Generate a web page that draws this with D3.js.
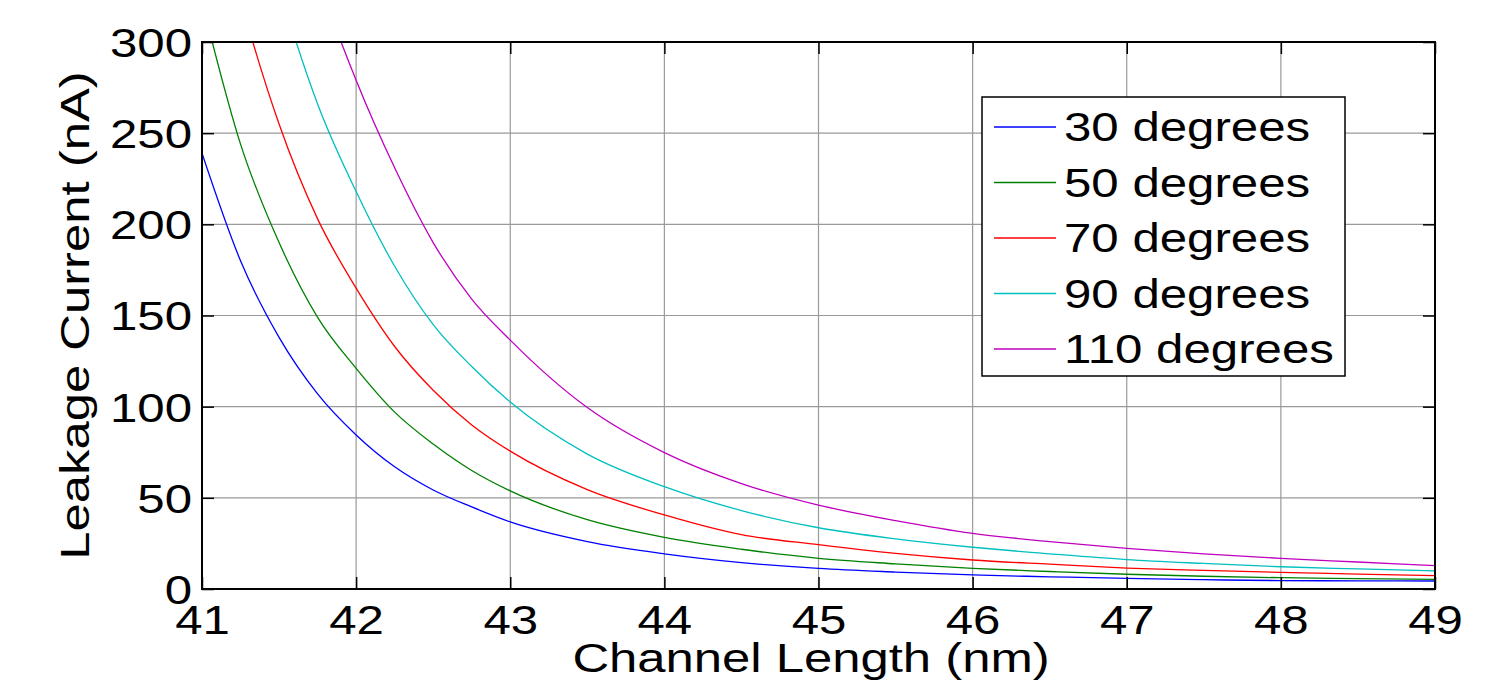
<!DOCTYPE html>
<html>
<head>
<meta charset="utf-8">
<script src="https://cdn.jsdelivr.net/npm/d3@7"></script>
<style>
  html, body { margin: 0; padding: 0; background: #fff; }
  svg { display: block; font-family: Arial, "Liberation Sans", sans-serif; }
</style>
</head>
<body>
<svg id="chart" width="1508" height="695"></svg>
<script>
// Channel length (nm)
const channelLength = [41, 41.25, 41.5, 41.75, 42, 42.25, 42.5, 42.75, 43, 43.5, 44, 44.5, 45, 45.5, 46, 46.5, 47, 47.5, 48, 48.5, 49];
// Leakage current (nA) per temperature
const deg30  = [239, 180, 138, 107, 84.5, 67, 54.3, 45, 36.8, 26, 19.3, 14.5, 11.3, 9.3, 7.7, 6.7, 5.8, 5.1, 4.6, 4.5, 4.4];
const deg50  = [322, 244, 190, 149, 121, 97, 79.5, 65, 53.8, 38, 28.3, 21.8, 16.8, 13.8, 11.3, 9.6, 8.1, 7.0, 6.2, 5.7, 5.3];
const deg70  = [412, 324, 255, 203, 165, 133, 109, 90, 75.6, 54.5, 40.6, 29.8, 24.3, 19.5, 15.9, 13.6, 11.5, 10.2, 9.1, 8.2, 7.3];
const deg90  = [516, 414, 331, 266, 218, 177, 145, 122, 102.5, 74, 56.1, 43, 33.6, 27.5, 22.9, 19.3, 16.1, 14.0, 12.2, 11.0, 9.9];
const deg110 = [602, 496, 408, 336, 279, 231, 190, 159, 136.5, 99.5, 74.8, 57.8, 46, 37.5, 30.5, 26, 22.3, 19.3, 16.8, 14.8, 12.8];

const seriesNames = ["30 degrees", "50 degrees", "70 degrees", "90 degrees", "110 degrees"];
const seriesValues = [deg30, deg50, deg70, deg90, deg110];
const seriesColors = ["#0000ff", "#008000", "#ff0000", "#00bfbf", "#bf00bf"];

const xTicks = [41, 42, 43, 44, 45, 46, 47, 48, 49];
const yTicks = [0, 50, 100, 150, 200, 250, 300];
const xTitle = "Channel Length (nm)";
const yTitle = "Leakage Current (nA)";

const svg = d3.select("#chart");
const L = 202, R = 1435, T = 42, B = 589;
const x = d3.scaleLinear().domain([41, 49]).range([L, R]);
const y = d3.scaleLinear().domain([0, 300]).range([B, T]);
const FS = 40;
const SX = 1.23;   // horizontal widening of glyphs (tick labels, legend)
const SXT = 1.27;  // horizontal widening of axis titles
const tickLen = 12;

// grid
const grid = svg.append("g");
grid.selectAll("line.gx").data(xTicks.slice(1, -1)).enter().append("line")
  .attr("x1", d => x(d)).attr("x2", d => x(d)).attr("y1", T).attr("y2", B)
  .attr("stroke", "#9a9a9a").attr("stroke-width", 1.2);
grid.selectAll("line.gy").data(yTicks.slice(1, -1)).enter().append("line")
  .attr("y1", d => y(d)).attr("y2", d => y(d)).attr("x1", L).attr("x2", R)
  .attr("stroke", "#9a9a9a").attr("stroke-width", 1.2);

// clip
svg.append("clipPath").attr("id", "plotclip").append("rect")
  .attr("x", L).attr("y", T).attr("width", R - L).attr("height", B - T);

const line = d3.line()
  .x(d => x(d[0])).y(d => y(d[1]))
  .curve(d3.curveMonotoneX);

const lines = svg.append("g").attr("clip-path", "url(#plotclip)");
seriesValues.forEach((vals, i) => {
  lines.append("path")
    .datum(channelLength.map((c, j) => [c, vals[j]]))
    .attr("d", line)
    .attr("fill", "none")
    .attr("stroke", seriesColors[i])
    .attr("stroke-width", 1.3);
});

// axes with inward ticks
const axB = d3.axisBottom(x).tickValues(xTicks).tickSize(-tickLen).tickPadding(17).tickFormat(d3.format("d"));
const axT = d3.axisTop(x).tickValues(xTicks).tickSize(-tickLen).tickFormat("");
const axL = d3.axisLeft(y).tickValues(yTicks).tickSize(-tickLen).tickPadding(10).tickFormat(d3.format("d"));
const axR = d3.axisRight(y).tickValues(yTicks).tickSize(-tickLen).tickFormat("");

function styleAxis(g) {
  g.select(".domain").remove();
  g.selectAll(".tick line").attr("stroke", "#000").attr("stroke-width", 1.5);
  g.selectAll(".tick text").attr("fill", "#000").style("font-size", FS + "px")
    .style("font-family", "Arial, 'Liberation Sans', sans-serif");
}
svg.append("g").attr("transform", `translate(0,${B})`).call(axB).call(styleAxis)
  .selectAll(".tick text").attr("dy", "0.71em").attr("transform", `scale(${SX},1)`);
svg.append("g").attr("transform", `translate(0,${T})`).call(axT).call(styleAxis);
svg.append("g").attr("transform", `translate(${L},0)`).call(axL).call(styleAxis)
  .selectAll(".tick text").attr("dy", "0.36em").attr("x", -10 / SX).attr("transform", `scale(${SX},1)`);
svg.append("g").attr("transform", `translate(${R},0)`).call(axR).call(styleAxis);

// box
svg.append("rect").attr("x", L).attr("y", T).attr("width", R - L).attr("height", B - T)
  .attr("fill", "none").attr("stroke", "#000").attr("stroke-width", 2);

// titles
svg.append("text").attr("transform", `translate(811,672) scale(${SXT},1)`).attr("text-anchor", "middle")
  .style("font-size", FS + "px").attr("fill", "#000").text(xTitle);
svg.append("text").attr("transform", `translate(89,${(T + B) / 2}) rotate(-90) scale(${SXT},1)`)
  .attr("text-anchor", "middle").style("font-size", FS + "px").attr("fill", "#000").text(yTitle);

// legend
const lg = svg.append("g");
lg.append("rect").attr("x", 982).attr("y", 97).attr("width", 363).attr("height", 279)
  .attr("fill", "#fff").attr("stroke", "#000").attr("stroke-width", 1.5);
const rowY = d3.scalePoint().domain(seriesNames).range([127, 349]);
seriesNames.forEach((n, i) => {
  const yy = rowY(n);
  lg.append("line").attr("x1", 994).attr("x2", 1056).attr("y1", yy).attr("y2", yy)
    .attr("stroke", seriesColors[i]).attr("stroke-width", 1.3);
  lg.append("text").attr("transform", `translate(1064,${yy}) scale(${SX},1)`).attr("dy", "0.36em")
    .style("font-size", FS + "px").attr("fill", "#000").text(n);
});
</script>
</body>
</html>
